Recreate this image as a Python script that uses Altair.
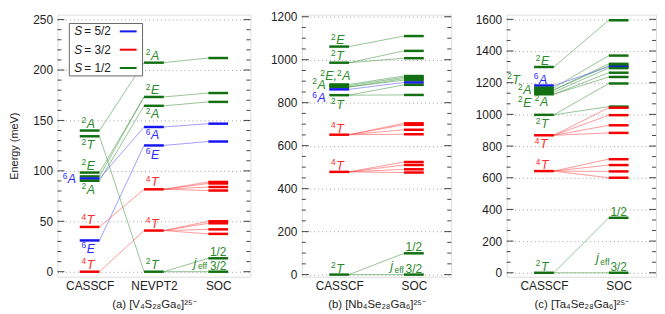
import altair as alt
import numpy as np
import pandas as pd

FONT = "Liberation Sans"
LEVEL_COLORS = {"5/2": "#1616f2", "3/2": "#f40000", "1/2": "#127012"}
TEXT_COLORS = {"5/2": "#2a2aff", "3/2": "#ff2a2a", "1/2": "#2a8a2a"}
LINK_COLORS = {"5/2": "#5a5aff", "3/2": "#ff5050", "1/2": "#4a9a4a"}
PLOT_H = 265
LVL_HALF_PX = 10

# ---------------- panel (a) ----------------
a_cats = ["CASSCF", "NEVPT2", "SOC"]
a_levels = [
    (0, 140.0, "1/2"), (0, 134.3, "1/2"), (0, 98.3, "1/2"), (0, 94.5, "1/2"),
    (0, 92.4, "5/2"), (0, 90.2, "1/2"), (0, 44.4, "3/2"), (0, 31.0, "5/2"), (0, 0.0, "3/2"),
    (1, 207.3, "1/2"), (1, 173.3, "1/2"), (1, 164.5, "1/2"), (1, 143.5, "5/2"),
    (1, 125.2, "5/2"), (1, 81.7, "3/2"), (1, 40.8, "3/2"), (1, 0.0, "1/2"),
    (2, 211.9, "1/2"), (2, 177.2, "1/2"), (2, 168.4, "1/2"), (2, 146.8, "5/2"),
    (2, 129.1, "5/2"), (2, 89.0, "3/2"), (2, 87.5, "3/2"), (2, 84.0, "3/2"),
    (2, 80.5, "3/2"), (2, 50.0, "3/2"), (2, 48.0, "3/2"), (2, 42.0, "3/2"),
    (2, 37.5, "3/2"), (2, 13.3, "1/2"), (2, 0.0, "1/2"),
]
a_links = [
    (0, 140.0, 1, 207.3, "1/2"), (0, 134.3, 1, 0.0, "1/2"), (0, 98.3, 1, 173.3, "1/2"),
    (0, 94.5, 1, 173.3, "1/2"), (0, 90.2, 1, 164.5, "1/2"), (0, 92.4, 1, 143.5, "5/2"),
    (0, 31.0, 1, 125.2, "5/2"), (0, 44.4, 1, 81.7, "3/2"), (0, 0.0, 1, 40.8, "3/2"),
    (1, 207.3, 2, 211.9, "1/2"), (1, 173.3, 2, 177.2, "1/2"), (1, 164.5, 2, 168.4, "1/2"),
    (1, 143.5, 2, 146.8, "5/2"), (1, 125.2, 2, 129.1, "5/2"),
    (1, 81.7, 2, 89.0, "3/2"), (1, 81.7, 2, 87.5, "3/2"), (1, 81.7, 2, 84.0, "3/2"),
    (1, 81.7, 2, 80.5, "3/2"), (1, 40.8, 2, 50.0, "3/2"), (1, 40.8, 2, 48.0, "3/2"),
    (1, 40.8, 2, 42.0, "3/2"), (1, 40.8, 2, 37.5, "3/2"),
    (1, 0.0, 2, 13.3, "1/2"), (1, 0.0, 2, 0.0, "1/2"),
]
# (column, energy, superscript, term, spin, dx px, dy px)
a_labels = [
    (0, 140.0, "2", "A", "1/2", -3, -3), (0, 134.3, "2", "T", "1/2", -3, 13),
    (0, 98.3, "2", "E", "1/2", -3, -3), (0, 92.4, "6", "A", "5/2", -22, 5),
    (0, 90.2, "2", "A", "1/2", -3, 13), (0, 44.4, "4", "T", "3/2", -3, -3),
    (0, 31.0, "6", "E", "5/2", -3, 12.5), (0, 0.0, "4", "T", "3/2", -3, -3),
    (1, 207.3, "2", "A", "1/2", -3, -3), (1, 173.3, "2", "E", "1/2", -3, -3),
    (1, 164.5, "2", "A", "1/2", -3, 12.5), (1, 143.5, "6", "A", "5/2", -3, 12.5),
    (1, 125.2, "6", "E", "5/2", -3, 13.5), (1, 81.7, "4", "T", "3/2", -3, -3),
    (1, 40.8, "4", "T", "3/2", -3, -3), (1, 0.0, "2", "T", "1/2", -3, -3),
]
a_soc = [(2, 13.3, "1/2"), (2, 0.0, "3/2")]
a_jeff = (2, 0.0, -25, -5, -3)

# ---------------- panel (b) ----------------
b_cats = ["CASSCF", "SOC"]
b_levels = [
    (0, 1061, "1/2"), (0, 986, "1/2"), (0, 885, "1/2"), (0, 879, "1/2"), (0, 873, "1/2"),
    (0, 862, "5/2"), (0, 835, "1/2"), (0, 651, "3/2"), (0, 478, "3/2"), (0, 0, "1/2"),
    (1, 1110, "1/2"), (1, 1041, "1/2"), (1, 1007, "1/2"), (1, 924, "1/2"), (1, 918, "1/2"),
    (1, 912, "1/2"), (1, 905, "1/2"), (1, 894, "5/2"), (1, 883, "1/2"), (1, 836, "1/2"),
    (1, 704, "3/2"), (1, 697, "3/2"), (1, 674, "3/2"), (1, 653, "3/2"),
    (1, 524, "3/2"), (1, 510, "3/2"), (1, 490, "3/2"), (1, 475, "3/2"),
    (1, 99, "1/2"), (1, 0, "1/2"),
]
b_links = [
    (0, 1061, 1, 1110, "1/2"), (0, 986, 1, 1041, "1/2"), (0, 986, 1, 1007, "1/2"),
    (0, 885, 1, 924, "1/2"), (0, 879, 1, 918, "1/2"), (0, 873, 1, 912, "1/2"),
    (0, 873, 1, 905, "1/2"), (0, 862, 1, 894, "5/2"), (0, 835, 1, 883, "1/2"),
    (0, 835, 1, 836, "1/2"),
    (0, 651, 1, 704, "3/2"), (0, 651, 1, 697, "3/2"), (0, 651, 1, 674, "3/2"), (0, 651, 1, 653, "3/2"),
    (0, 478, 1, 524, "3/2"), (0, 478, 1, 510, "3/2"), (0, 478, 1, 490, "3/2"), (0, 478, 1, 475, "3/2"),
    (0, 0, 1, 99, "1/2"), (0, 0, 1, 0, "1/2"),
]
b_labels = [
    (0, 1061, "2", "E", "1/2", -3, -2.5), (0, 986, "2", "T", "1/2", -3, -2.5),
    (0, 885, "2", "E,", "1/2", -14, -4), (0, 885, "2", "A", "1/2", 3, -4),
    (0, 879, "2", "A", "1/2", -22, 3), (0, 862, "6", "A", "5/2", -22, 13),
    (0, 835, "2", "T", "1/2", -3, 13.5), (0, 651, "4", "T", "3/2", -3, -2),
    (0, 478, "4", "T", "3/2", -3, -2), (0, 0, "2", "T", "1/2", -3, -2),
]
b_soc = [(1, 99, "1/2"), (1, 0, "3/2")]
b_jeff = (1, 0, -24, -4.5, -2)

# ---------------- panel (c) ----------------
c_cats = ["CASSCF", "SOC"]
c_levels = [
    (0, 1299, "1/2"), (0, 1182, "5/2"), (0, 1168, "1/2"), (0, 1155, "1/2"), (0, 1141, "1/2"),
    (0, 1127, "1/2"), (0, 997, "1/2"), (0, 868, "3/2"), (0, 642, "3/2"), (0, 0, "1/2"),
    (1, 1594, "1/2"), (1, 1371, "1/2"), (1, 1319, "1/2"), (1, 1308, "1/2"), (1, 1300, "5/2"),
    (1, 1292, "1/2"), (1, 1263, "1/2"), (1, 1236, "1/2"), (1, 1195, "1/2"), (1, 1049, "1/2"),
    (1, 1042, "3/2"), (1, 995, "3/2"), (1, 931, "3/2"), (1, 883, "3/2"),
    (1, 717, "3/2"), (1, 680, "3/2"), (1, 640, "3/2"), (1, 600, "3/2"),
    (1, 347, "1/2"), (1, 0, "1/2"),
]
c_links = [
    (0, 1299, 1, 1594, "1/2"), (0, 1168, 1, 1371, "1/2"), (0, 1155, 1, 1319, "1/2"),
    (0, 1155, 1, 1308, "1/2"), (0, 1141, 1, 1292, "1/2"), (0, 1127, 1, 1263, "1/2"),
    (0, 1127, 1, 1236, "1/2"), (0, 1182, 1, 1300, "5/2"), (0, 997, 1, 1195, "1/2"),
    (0, 997, 1, 1049, "1/2"),
    (0, 868, 1, 1042, "3/2"), (0, 868, 1, 995, "3/2"), (0, 868, 1, 931, "3/2"), (0, 868, 1, 883, "3/2"),
    (0, 642, 1, 717, "3/2"), (0, 642, 1, 680, "3/2"), (0, 642, 1, 640, "3/2"), (0, 642, 1, 600, "3/2"),
    (0, 0, 1, 347, "1/2"), (0, 0, 1, 0, "1/2"),
]
c_labels = [
    (0, 1299, "2", "E", "1/2", -3, -2), (0, 1182, "2", "T", "1/2", -32, -2),
    (0, 1182, "6", "A", "5/2", -5, -2), (0, 1182, "2", "A", "1/2", -21, 9),
    (0, 1182, "2", "E", "1/2", -21, 21.5), (0, 1127, "2", "A", "1/2", -4, 11.5),
    (0, 997, "2", "T", "1/2", -3, 13.5), (0, 868, "4", "T", "3/2", -4, 13),
    (0, 642, "4", "T", "3/2", -3, -2), (0, 0, "2", "T", "1/2", -3, -2),
]
c_soc = [(1, 347, "1/2"), (1, 0, "3/2")]
c_jeff = (1, 0, -23, -11, -8)

legend_spins = ["5/2", "3/2", "1/2"]
legend_texts = ["= 5/2", "= 3/2", "= 1/2"]


def build_panel(cats, levels, links, labels, soc, jeff, ydom, majors, minor_step,
                width, title, ytitle=None, extent=None, legend=False):
    n = len(cats)
    px_x = width / n
    px_y = PLOT_H / (ydom[1] - ydom[0])
    hw = LVL_HALF_PX / px_x
    xs = alt.Scale(domain=[-0.5, n - 0.5], nice=False, zero=False)
    ys = alt.Scale(domain=list(ydom), nice=False, zero=False)

    lv = pd.DataFrame(levels, columns=["col", "E", "spin"])
    lv["xa"] = lv["col"] - hw
    lv["xb"] = lv["col"] + hw
    lv["c"] = lv["spin"].map(LEVEL_COLORS)

    lk = pd.DataFrame(links, columns=["c0", "E0", "c1", "E1", "spin"])
    lk["xa"] = lk["c0"] + hw
    lk["xb"] = lk["c1"] - hw
    lk["c"] = lk["spin"].map(LINK_COLORS)

    ykw = dict(values=majors, format="d", grid=True, gridDash=[1, 3], gridColor="#a0a0a0",
               ticks=False, domain=False, labelPadding=5, labelFontSize=12,
               labelColor="#222222", labelFont=FONT,
               titleFontSize=11, titleFont=FONT, titleColor="#222222",
               titleFontWeight="normal", titlePadding=13)
    ykw["title"] = ytitle if ytitle else None
    if extent is not None:
        ykw["minExtent"] = extent
        ykw["maxExtent"] = extent
    yaxis = alt.Axis(**ykw)
    lab_expr = "[" + ",".join("'%s'" % c for c in cats) + "][datum.value]"
    xaxis = alt.Axis(values=list(range(n)), labelExpr=lab_expr, grid=False, ticks=False,
                     domain=False, labelPadding=4, labelFontSize=12, labelColor="#222222",
                     labelFont=FONT, title=title, titleFontSize=11.5, titleFont=FONT,
                     titleFontWeight="normal", titleColor="#222222", titlePadding=7)

    def X(f):
        return alt.X(f, scale=xs, axis=xaxis)

    def Y(f):
        return alt.Y(f, scale=ys, axis=yaxis)

    links_layer = alt.Chart(lk).mark_rule(strokeWidth=0.9, opacity=0.65).encode(
        x=X("xa:Q"), x2="xb:Q", y=Y("E0:Q"), y2="E1:Q",
        color=alt.Color("c:N", scale=None))
    levels_layer = alt.Chart(lv).mark_rule(strokeWidth=2.5).encode(
        x=X("xa:Q"), x2="xb:Q", y=Y("E:Q"),
        color=alt.Color("c:N", scale=None))

    lb = pd.DataFrame(labels, columns=["col", "E", "sup", "main", "spin", "dx", "dy"])
    lb["xm"] = lb["col"] + lb["dx"] / px_x
    lb["xs"] = lb["col"] + (lb["dx"] - 0.5) / px_x
    lb["ym"] = lb["E"] - lb["dy"] / px_y
    lb["ys"] = lb["E"] - (lb["dy"] - 4.5) / px_y
    lb["c"] = lb["spin"].map(TEXT_COLORS)
    main_layer = alt.Chart(lb).mark_text(align="left", baseline="alphabetic", fontStyle="italic",
                                         fontSize=12.5, font=FONT).encode(
        x=X("xm:Q"), y=Y("ym:Q"), text="main:N", color=alt.Color("c:N", scale=None))
    sup_layer = alt.Chart(lb).mark_text(align="right", baseline="alphabetic",
                                        fontSize=8.5, font=FONT).encode(
        x=X("xs:Q"), y=Y("ys:Q"), text="sup:N", color=alt.Color("c:N", scale=None))

    fr = pd.DataFrame(soc, columns=["col", "E", "txt"])
    fr["y"] = fr["E"] + 2 / px_y
    frac_layer = alt.Chart(fr).mark_text(align="center", baseline="alphabetic", fontSize=12,
                                         font=FONT, color=TEXT_COLORS["1/2"]).encode(
        x=X("col:Q"), y=Y("y:Q"), text="txt:N")

    jc, jE, jdx, jdy, edy = jeff
    jd = pd.DataFrame({"x": [jc + jdx / px_x], "y": [jE - jdy / px_y],
                       "xe": [jc + (jdx + 4.5) / px_x], "ye": [jE - edy / px_y]})
    j_layer = alt.Chart(jd).mark_text(align="left", baseline="alphabetic", fontSize=13,
                                      fontStyle="italic", font=FONT, text="j",
                                      color=TEXT_COLORS["1/2"]).encode(x=X("x:Q"), y=Y("y:Q"))
    eff_layer = alt.Chart(jd).mark_text(align="left", baseline="alphabetic", fontSize=8.5,
                                        font=FONT, text="eff",
                                        color=TEXT_COLORS["1/2"]).encode(x=X("xe:Q"), y=Y("ye:Q"))

    minors = [float(v) for v in np.arange(0, ydom[1], minor_step)
              if all(abs(v - m) > 1e-6 for m in majors)]
    tick_layers = []
    for vals, L in [(majors, 7), (minors, 4)]:
        df = pd.DataFrame({"v": vals})
        for x0, x1 in [(0, L), (width, width - L)]:
            tick_layers.append(alt.Chart(df).mark_rule(color="#444444", strokeWidth=1).encode(
                x=alt.value(x0), x2=alt.value(x1), y=Y("v:Q")))

    layers = [links_layer, levels_layer, sup_layer, main_layer, frac_layer, j_layer, eff_layer] + tick_layers

    if legend:
        one = pd.DataFrame({"k": [0]})
        layers.append(alt.Chart(one).mark_rect(fill="white", stroke="#666666", strokeWidth=1).encode(
            x=alt.value(12), x2=alt.value(86), y=alt.value(9), y2=alt.value(62)))
        for i, (sp, tx) in enumerate(zip(legend_spins, legend_texts)):
            base_y = 21 + 18.5 * i
            layers.append(alt.Chart(one).mark_text(align="left", baseline="alphabetic", fontSize=12,
                                                   fontStyle="italic", font=FONT, text="S",
                                                   color="#222222").encode(
                x=alt.value(17), y=alt.value(base_y)))
            layers.append(alt.Chart(one).mark_text(align="left", baseline="alphabetic", fontSize=12,
                                                   font=FONT, text=tx, color="#222222").encode(
                x=alt.value(27), y=alt.value(base_y)))
            layers.append(alt.Chart(one).mark_rule(strokeWidth=2, color=LEVEL_COLORS[sp]).encode(
                x=alt.value(63), x2=alt.value(80), y=alt.value(base_y - 4)))

    return alt.layer(*layers).properties(width=width, height=PLOT_H)


pa = build_panel(a_cats, a_levels, a_links, a_labels, a_soc, a_jeff, (-5, 255),
                 [0, 50, 100, 150, 200, 250], 10, 195, "(a) [V₄S₂₈Ga₆]²⁵⁻",
                 ytitle="Energy (meV)", legend=True)
pb = build_panel(b_cats, b_levels, b_links, b_labels, b_soc, b_jeff, (-10, 1210),
                 [0, 200, 400, 600, 800, 1000, 1200], 50, 151, "(b) [Nb₄Se₂₈Ga₆]²⁵⁻",
                 extent=32)
pc = build_panel(c_cats, c_levels, c_links, c_labels, c_soc, c_jeff, (-25, 1630),
                 [0, 200, 400, 600, 800, 1000, 1200, 1400, 1600], 200 / 3, 151,
                 "(c) [Ta₄Se₂₈Ga₆]²⁵⁻", extent=36)

chart = alt.hconcat(pa, pb, pc, spacing=18).properties(padding=0).configure_view(
    stroke="#555555", strokeWidth=1.5).configure(font=FONT, background="white")

chart.save("out.html", embed_options={"renderer": "svg", "actions": False})
